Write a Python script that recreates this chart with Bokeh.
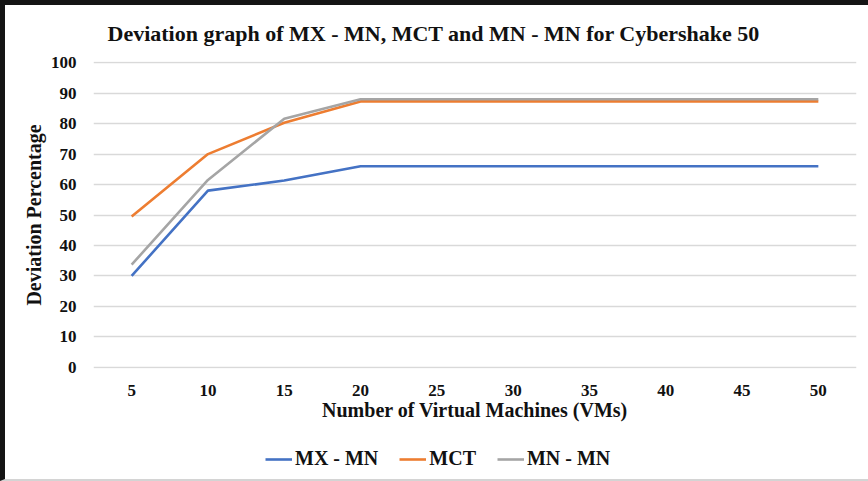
from bokeh.plotting import figure
from bokeh.layouts import column
from bokeh.models import Range1d, FactorRange, Legend, LegendItem, ColumnDataSource
from bokeh.embed import file_html
from bokeh.resources import INLINE

vms = ["5", "10", "15", "20", "25", "30", "35", "40", "45", "50"]
mx_mn = [30, 58, 61.3, 66, 66, 66, 66, 66, 66, 66]
mct = [49.5, 70, 80.3, 87.3, 87.3, 87.3, 87.3, 87.3, 87.3, 87.3]
mn_mn = [33.7, 61.5, 81.6, 88, 88, 88, 88, 88, 88, 88]
series = ["MX - MN", "MCT", "MN - MN"]
colors = ["#4472C4", "#ED7D31", "#A5A5A5"]
y_ticks = [0, 10, 20, 30, 40, 50, 60, 70, 80, 90, 100]

FONT = "Liberation Serif"

src = ColumnDataSource(dict(x=vms, a=mx_mn, b=mct, c=mn_mn))

p = figure(width=863, height=425, output_backend="svg", toolbar_location=None,
           x_range=FactorRange(*vms, range_padding=0), y_range=Range1d(-0.4, 100.4),
           min_border_left=88, min_border_right=12, min_border_top=56, min_border_bottom=62)
p.outline_line_color = None
p.background_fill_color = "white"
p.border_fill_color = "white"

p.title.text = "Deviation graph of MX - MN, MCT and MN - MN for Cybershake 50"
p.title.text_font = FONT
p.title.text_font_size = "22px"
p.title.text_font_style = "bold"
p.title.align = "left"
p.title.offset = 14
p.title.text_color = "#111111"
p.title.standoff = 27
p.title.vertical_align = "top"

p.xgrid.grid_line_color = None
p.ygrid.grid_line_color = "#d9d9d9"
p.ygrid.grid_line_width = 1.3
p.yaxis.ticker = y_ticks

for ax in (p.xaxis[0], p.yaxis[0]):
    ax.axis_line_color = None
    ax.major_tick_line_color = None
    ax.minor_tick_line_color = None
    ax.major_label_text_font = FONT
    ax.major_label_text_font_size = "17px"
    ax.major_label_text_font_style = "bold"
    ax.major_label_text_color = "#111111"
    ax.axis_label_text_font = FONT
    ax.axis_label_text_font_size = "20px"
    ax.axis_label_text_font_style = "bold"
    ax.axis_label_text_color = "#111111"

p.xaxis.axis_label = "Number of Virtual Machines (VMs)"
p.yaxis.axis_label = "Deviation Percentage"
p.yaxis.major_label_standoff = 11
p.xaxis.major_label_standoff = 10
p.yaxis.axis_label_standoff = 3
p.xaxis.axis_label_standoff = 0

for col, c in zip(["a", "b", "c"], colors):
    p.line("x", col, source=src, line_color=c, line_width=2.6)

# legend strip below the chart (its key lines sit outside the visible range)
lg = figure(width=863, height=49, output_backend="svg", toolbar_location=None,
            x_range=Range1d(0, 1), y_range=Range1d(0, 1),
            min_border=0, min_border_left=0, min_border_right=0, min_border_top=0, min_border_bottom=0)
lg.axis.visible = False
lg.grid.visible = False
lg.outline_line_color = None
lg.border_fill_color = "white"
items = []
for name, c in zip(series, colors):
    r = lg.line(x=[-2, -1], y=[-2, -1], line_color=c, line_width=2.6)
    items.append(LegendItem(label=name, renderers=[r]))
legend = Legend(items=items, orientation="horizontal", location=(172, 9),
                label_text_font=FONT, label_text_font_size="20px", label_text_font_style="bold",
                label_text_color="#111111", glyph_width=27, label_standoff=3, spacing=21,
                border_line_color=None, background_fill_alpha=0, margin=0, padding=0)
lg.add_layout(legend, "center")

layout = column(p, lg, spacing=0,
                styles={"border-left": "5px solid #141414", "border-top": "5px solid #141414",
                        "border-bottom": "2px solid #d4d4d4", "background-color": "white"})

open("out.html", "w").write(file_html(layout, INLINE))
